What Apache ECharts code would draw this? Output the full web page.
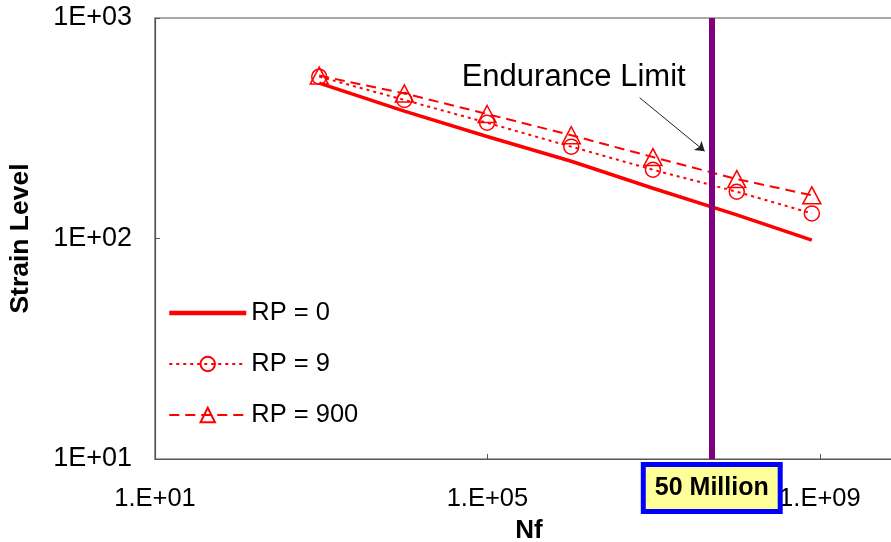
<!DOCTYPE html>
<html><head><meta charset="utf-8">
<script src="https://cdn.jsdelivr.net/npm/echarts@6/dist/echarts.min.js"></script>
<style>html,body{margin:0;padding:0;background:#fff}#c{width:891px;height:542px}</style>
</head><body><div id="c"></div>
<script>
// Data (log-log chart)
const nf    = [946, 1.0e4, 9.9e4, 1.02e6, 9.8e6, 1.0e8, 8.0e8];
const rp0   = [507, 378, 290, 224, 169, 128, 98.4];
const rp9   = [542, 425, 335, 261, 205, 163, 130];
const rp900 = [548, 455, 367, 294, 234, 186, 157];
const seriesNames = ['RP = 0', 'RP = 9', 'RP = 900'];
// Tick labels (exponent -> label)
const xTickExp = [1, 5, 9];
const xTickLabels = ['1.E+01', '1.E+05', '1.E+09'];
const yTickExp = [1, 2, 3];
const yTickLabels = ['1E+01', '1E+02', '1E+03'];
// Annotations
const enduranceNf = 5e7;
const enduranceLabel = '50 Million';
const annotText = 'Endurance Limit';
const annotTextAt = [1.09e6, 535];
const arrowFrom = [6.78e6, 435];
const arrowTo = [4.11e7, 249];

const L = Math.log10;
const toPts = ys => nf.map((x, i) => [L(x), L(ys[i])]);
const FONT = "'Liberation Sans', Arial, sans-serif";
const RED = '#ff0000';

const chart = echarts.init(document.getElementById('c'));
chart.setOption({
  animation: false,
  backgroundColor: '#fff',
  textStyle: { fontFamily: FONT },
  grid: { left: 155, top: 18, right: -12, bottom: 83, show: true, borderColor: '#555', borderWidth: 1.2,
          containLabel: false, outerBoundsMode: 'none' },
  xAxis: {
    type: 'value', min: 1, max: 10, interval: 4,
    name: 'Nf', nameLocation: 'middle', nameGap: 59,
    nameTextStyle: { fontFamily: FONT, fontWeight: 'bold', fontSize: 26, color: '#000' },
    axisLine: { lineStyle: { color: '#555', width: 1.2 } },
    axisTick: { inside: true, length: 5, lineStyle: { color: '#555' } },
    axisLabel: { fontFamily: FONT, fontSize: 25.5, color: '#000', margin: 27, showMaxLabel: false,
      formatter: v => { const i = xTickExp.indexOf(Math.round(v)); return i >= 0 ? xTickLabels[i] : ''; } },
    splitLine: { show: false }
  },
  yAxis: {
    type: 'value', min: 1, max: 3, interval: 1,
    name: 'Strain Level', nameLocation: 'middle', nameGap: 121,
    nameTextStyle: { fontFamily: FONT, fontWeight: 'bold', fontSize: 26.5, color: '#000' },
    axisLine: { lineStyle: { color: '#555', width: 1.2 } },
    axisTick: { inside: true, length: 5, lineStyle: { color: '#555' } },
    axisLabel: { fontFamily: FONT, fontSize: 27, color: '#000', margin: 23,
      formatter: v => { const i = yTickExp.indexOf(Math.round(v)); return i >= 0 ? yTickLabels[i] : ''; } },
    splitLine: { show: false }
  },
  legend: {
    orient: 'vertical', left: 167, top: 299, padding: 0,
    itemWidth: 77, itemHeight: 18, itemGap: 23,
    textStyle: { fontFamily: FONT, fontSize: 25.5, color: '#000', lineHeight: 28 },
    data: [
      { name: seriesNames[0], itemStyle: { opacity: 0 }, lineStyle: { width: 4.5 } },
      { name: seriesNames[1] },
      { name: seriesNames[2] }
    ]
  },
  series: [
    {
      name: seriesNames[0], type: 'line', data: toPts(rp0), symbol: 'none',
      lineStyle: { color: RED, width: 3.5 }, itemStyle: { color: RED }, z: 2
    },
    {
      name: seriesNames[1], type: 'line', data: toPts(rp9), symbol: 'circle', symbolSize: 15,
      lineStyle: { color: RED, width: 2, type: [3, 4] },
      itemStyle: { color: 'rgba(255,255,255,0)', borderColor: RED, borderWidth: 1.5 }, z: 3
    },
    {
      name: seriesNames[2], type: 'line', data: toPts(rp900), symbol: 'triangle', symbolSize: [18, 17],
      lineStyle: { color: RED, width: 2, type: [10, 6] },
      itemStyle: { color: 'rgba(255,255,255,0)', borderColor: RED, borderWidth: 1.5 }, z: 3
    },
    {
      name: 'annot', type: 'line', data: [], clip: false, z: 5,
      markLine: {
        silent: true, animation: false, symbol: ['none', 'none'],
        data: [
          [
            { coord: [L(enduranceNf), 3], lineStyle: { color: '#800080', width: 6, type: 'solid' },
              label: { show: true, position: 'end', distance: 8, formatter: enduranceLabel,
                fontFamily: FONT, fontWeight: 'bold', fontSize: 25, color: '#000',
                backgroundColor: '#ffff99', borderColor: '#0000ff', borderWidth: 5, padding: [9, 9, 8, 9] } },
            { coord: [L(enduranceNf), 1] }
          ],
          [
            { coord: [L(arrowFrom[0]), L(arrowFrom[1])], symbol: 'none',
              lineStyle: { color: '#222', width: 1, type: 'solid' }, label: { show: false } },
            { coord: [L(arrowTo[0]), L(arrowTo[1])], symbol: 'arrow', symbolSize: 9 }
          ]
        ]
      },
      markPoint: {
        silent: true, symbol: 'circle', symbolSize: 0,
        data: [{ coord: [L(annotTextAt[0]), L(annotTextAt[1])],
          label: { show: true, position: 'inside', formatter: annotText, fontFamily: FONT, fontSize: 31, color: '#000' } }]
      }
    }
  ]
});
</script></body></html>
